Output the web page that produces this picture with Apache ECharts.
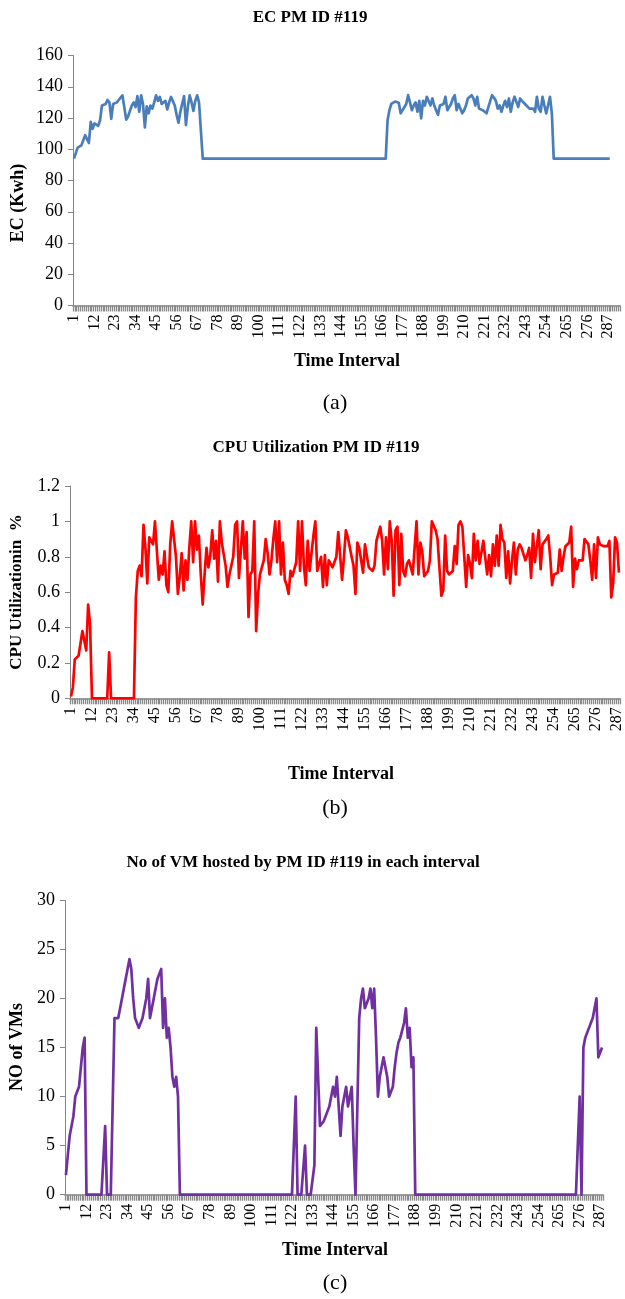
<!DOCTYPE html>
<html><head><meta charset="utf-8">
<script src="https://cdn.jsdelivr.net/npm/echarts@6/dist/echarts.min.js"></script>
<style>html,body{margin:0;padding:0;background:#fff}#c{width:625px;height:1299px}</style>
</head><body><div id="c"></div>
<script>
// ---- categories (time intervals) ----
const categoriesA = Array.from({length: 293}, (_, i) => String(i + 1));
const categoriesBC = Array.from({length: 288}, (_, i) => String(i + 1));

// ---- (a) Energy consumption, Kwh ----
const ecValues = [
94,95,101,102,102.5,103,109,110,104,117.5,
113,116.5,115.5,115,118.5,128,127,129,131.5,130,
119.5,129,128.5,130,131.5,133,134.5,134.5,119,121,
122,128,130,127,134,124,134.5,129,114,127.5,
123,128,126,130,134.5,131,133.5,129,130,131,
125.5,130,133.5,134,128,122,117,124,129,134,
115.5,127,134.5,130,124.5,131,134.5,130,112,94,
94,94,94,94,94,94,94,94,94,94,
94,94,94,94,94,94,94,94,94,94,
94,94,94,94,94,94,94,94,94,94,
94,94,94,94,94,94,94,94,94,94,
94,94,94,94,94,94,94,94,94,94,
94,94,94,94,94,94,94,94,94,94,
94,94,94,94,94,94,94,94,94,94,
94,94,94,94,94,94,94,94,94,94,
94,94,94,94,94,94,94,94,94,94,
94,94,94,94,94,94,94,94,118.6,125,
129,130,130.5,131,129.7,123,125,126,129,134.6,
130,125,128,130,124,131,119.7,131,128,133.6,
134.6,128,132.5,128,125,122,128,127,129,133.6,
125,127,129,132.5,134.6,125,129,126,123,125,
128,132.5,133,134.6,132.5,128,133.6,126,127,125,
124,123,127,131,134.6,133,131,126,128,124,
128,131,127,132.5,124,130,133.6,134.6,127,132.5,
131,130,128.5,128,126,127,126,124,133.6,126,
124,133.6,128,123,124,133.6,123,94,94,94,
94,94,94,94,94,94,94,94,94,94,
94,94,94,94,94,94,94,94,94,94,
94,94,94,94,94,94,94,94
];

// ---- (b) CPU utilization ----
const cpuValues = [
0.01,0.06,0.22,0.23,0.24,0.25,0.38,0.39,0.27,0.53,
0.42,0,0,0,0,0,0,0,0,0,
0.26,0,0,0,0,0,0,0,0,0,
0,0,0,0,0.57,0.72,0.75,0.69,0.98,0.85,
0.65,0.91,0.92,0.87,1.0,0.99,0.67,0.75,0.7,0.83,
0.64,0.6,0.87,1.0,1.0,0.8,0.59,0.69,0.82,0.61,
0.78,0.67,0.85,1.0,0.77,1.0,0.84,0.92,0.7,0.53,
0.7,0.85,0.74,0.81,0.95,0.79,0.89,0.66,1.0,0.88,
0.87,0.75,0.63,0.7,0.69,0.8,0.98,1.0,0.68,0.69,
1.0,0.79,0.94,0.46,0.7,0.72,1.0,0.38,0.59,0.7,
0.74,0.78,0.9,0.82,0.7,0.78,0.9,1.0,0.77,1.0,
0.7,0.88,0.67,0.64,0.59,0.72,0.69,0.7,0.77,1.0,
0.72,1.0,0.75,0.64,0.89,0.72,0.82,0.92,1.0,0.72,
0.72,0.8,0.63,0.81,0.64,0.78,0.77,0.74,0.73,0.8,
0.94,0.93,0.67,0.8,0.95,0.91,0.9,0.8,0.75,0.59,
0.88,0.85,0.84,0.71,0.87,0.87,0.74,0.73,0.72,0.75,
0.89,0.9,0.97,0.89,0.7,0.91,0.73,1.0,0.89,0.58,
0.95,0.97,0.64,0.93,0.72,0.69,0.76,0.78,0.78,0.7,
0.85,1.0,0.7,0.88,0.83,0.69,0.7,0.72,0.78,1.0,
1.0,0.95,0.9,0.89,0.58,0.61,0.92,0.72,0.7,0.71,
0.72,0.86,0.76,0.98,1.0,0.97,0.8,0.63,0.81,0.76,
0.68,0.93,0.78,0.89,0.76,0.75,0.89,0.88,0.7,0.81,
0.69,0.87,0.75,0.92,0.75,0.98,0.9,0.88,0.68,0.83,
0.65,0.78,0.88,0.7,0.84,0.87,0.85,0.84,0.78,0.81,
0.85,0.68,0.93,0.77,0.86,0.95,0.73,0.87,0.87,0.9,
0.92,0.8,0.64,0.7,0.71,0.71,0.84,0.72,0.8,0.86,
0.87,0.88,0.97,0.63,0.79,0.73,0.78,0.77,0.78,0.9,
0.89,0.87,0.78,0.67,0.87,0.68,0.91,0.87,0.86,0.86,
0.85,0.86,0.89,0.57,0.65,0.91,0.88,0.71
];

// ---- (c) Number of VMs hosted ----
const vmValues = [
2,4,6,7,8,10,10,11,13,15,
16,0,0,0,0,0,0,0,0,0,
0,7,0,0,0,0,18,18,18,19,
20,21,22,23,24,23,20,18,18,17,
17,18,18,20,22,18,19,20,21,22,
22.5,23,17,20,16,17,15,12,11,12,
10,0,0,0,0,0,0,0,0,0,
0,0,0,0,0,0,0,0,0,0,
0,0,0,0,0,0,0,0,0,0,
0,0,0,0,0,0,0,0,0,0,
0,0,0,0,0,0,0,0,0,0,
0,0,0,0,0,0,0,0,0,0,
0,0,0,10,0,0,0,0,5,0,
0,0,0,3,17,12,7,7,7.5,8,
8,9,10,11,10,12,9,6,9,10,
11,9,10,11,5,0,0,18,20,21,
19,19,20,21,19,21,16,10,12,12,
14,14,12,10,10,11,13,14.5,15.5,16,
16,17.5,19,16,17,13,14,0,0,0,
0,0,0,0,0,0,0,0,0,0,
0,0,0,0,0,0,0,0,0,0,
0,0,0,0,0,0,0,0,0,0,
0,0,0,0,0,0,0,0,0,0,
0,0,0,0,0,0,0,0,0,0,
0,0,0,0,0,0,0,0,0,0,
0,0,0,0,0,0,0,0,0,0,
0,0,0,0,0,0,0,0,0,0,
0,0,0,0,0,10,0,15,16,16.5,
17,17,18,18,20,14,14,15
];

// ---- y axis scales ----
const yScaleA = {min: 0, max: 160, interval: 20};
const yScaleB = {min: 0, max: 1.2, interval: 0.2};
const yScaleC = {min: 0, max: 30, interval: 5};

// ---- texts ----
const titles = ['EC PM ID #119', 'CPU Utilization PM ID #119', 'No of VM hosted by PM ID #119 in each interval'];
const yNames = ['EC (Kwh)', 'CPU Utilizationin  %', 'NO of VMs'];
const xName = 'Time Interval';
const panelLabels = ['(a)', '(b)', '(c)'];

const FONT = "'Liberation Serif', 'Times New Roman', serif";
const AXIS_GRAY = '#868686';

const chart = echarts.init(document.getElementById('c'), null, {renderer: 'canvas'});

const grids = [
  {left: 73, top: 55.5, width: 547, height: 250},
  {left: 70, top: 486, width: 555, height: 212.3},
  {left: 65, top: 900.3, width: 538, height: 294.4}
];

function xAxisCfg(i, cats) {
  return {
    type: 'category', gridIndex: i, data: cats, boundaryGap: true,
    axisLine: {show: true, lineStyle: {color: AXIS_GRAY, width: 1.5}},
    axisTick: {show: true, interval: 0, length: 6, lineStyle: {color: '#8a8a8a', width: 1.3}},
    axisLabel: {interval: 10, rotate: 90, fontFamily: FONT, fontSize: 16, color: '#000', margin: 9},
    splitLine: {show: false}
  };
}
function yAxisCfg(i, sc) {
  return {
    type: 'value', gridIndex: i, min: sc.min, max: sc.max, interval: sc.interval,
    axisLine: {show: true, lineStyle: {color: AXIS_GRAY, width: 1}},
    axisTick: {show: true, length: 5, lineStyle: {color: AXIS_GRAY}},
    axisLabel: {fontFamily: FONT, fontSize: 18, color: '#000', margin: 10},
    splitLine: {show: false}
  };
}
function lineSeries(i, data, color) {
  return {
    type: 'line', xAxisIndex: i, yAxisIndex: i, data: data,
    symbol: 'none', showSymbol: false,
    lineStyle: {color: color, width: 2.7, join: 'round'},
    itemStyle: {color: color}
  };
}
function txt(text, x, y, size, bold, rot) {
  return {
    type: 'text', x: x, y: y, rotation: rot || 0,
    style: {text: text, x: 0, y: 0, textAlign: 'center', textVerticalAlign: 'middle',
      font: (bold ? 'bold ' : '') + size + 'px ' + FONT, fill: '#000'}
  };
}

const option = {
  animation: false,
  backgroundColor: '#fff',
  grid: grids,
  xAxis: [xAxisCfg(0, categoriesA), xAxisCfg(1, categoriesBC), xAxisCfg(2, categoriesBC)],
  yAxis: [yAxisCfg(0, yScaleA), yAxisCfg(1, yScaleB), yAxisCfg(2, yScaleC)],
  series: [
    lineSeries(0, ecValues, '#4a7ebb'),
    lineSeries(1, cpuValues, '#ff0000'),
    lineSeries(2, vmValues, '#7030a0')
  ],
  graphic: [
    txt(titles[0], 310, 18, 17, true),
    txt(titles[1], 316, 448, 17, true),
    txt(titles[2], 303, 863, 17, true),
    txt(yNames[0], 18, 203, 18, true, Math.PI / 2),
    txt(yNames[1], 17, 592, 17, true, Math.PI / 2),
    txt(yNames[2], 17, 1047, 18, true, Math.PI / 2),
    txt(xName, 347, 361, 18, true),
    txt(xName, 341, 774, 18, true),
    txt(xName, 335, 1250, 18, true),
    txt(panelLabels[0], 335, 403, 22, false),
    txt(panelLabels[1], 335, 808, 22, false),
    txt(panelLabels[2], 335, 1283, 22, false)
  ]
};
chart.setOption(option);
</script>
</body></html>
